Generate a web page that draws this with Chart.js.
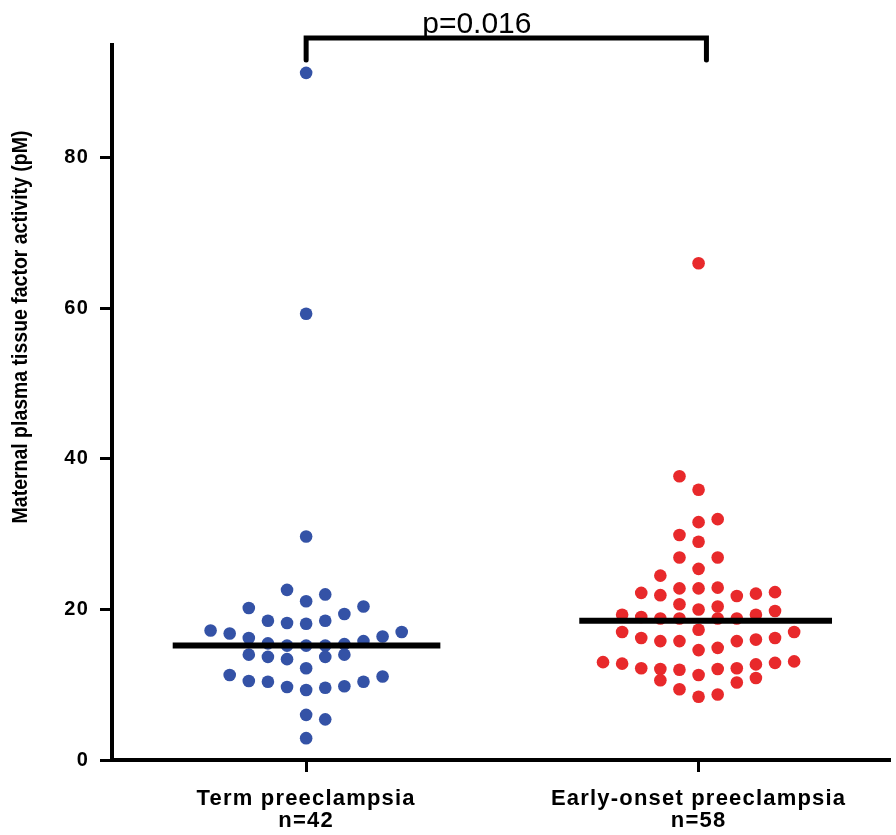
<!DOCTYPE html>
<html><head><meta charset="utf-8">
<script src="https://cdn.jsdelivr.net/npm/chart.js@4"></script>
<style>html,body{margin:0;padding:0;background:#fff}canvas{display:block}</style>
</head><body><canvas id="c" width="896" height="835"></canvas>
<script>
const categories = ["Term preeclampsia", "Early-onset preeclampsia"];
const groupSizes = ["n=42", "n=58"];
const termValues = [22.6,21.1,22.0,20.2,20.4,19.4,18.5,18.2,18.1,18.5,17.2,16.8,16.2,16.4,17.0,15.5,15.2,15.2,15.2,15.4,15.8,14.0,13.7,13.4,13.7,14.0,12.2,11.3,10.5,10.4,9.7,9.3,9.6,9.8,10.4,11.1,6.0,5.4,2.9,29.7,59.3,91.3];
const termColumns = [-1,0,1,-3,3,2,-2,-1,0,1,-5,-4,-3,4,5,-2,-1,0,1,2,3,-3,-2,-1,1,2,0,-4,-3,-2,-1,0,1,2,3,4,0,1,0,0,0,0];
const earlyValues = [37.7,35.9,31.6,32.0,29.9,29.0,26.9,26.9,25.4,24.5,22.2,21.9,22.8,22.8,22.9,21.8,22.1,22.3,20.7,20.0,20.4,19.3,19.8,19.3,19.0,18.8,18.8,18.8,18.8,17.3,17.0,17.0,16.2,15.8,15.8,15.8,16.0,16.2,14.6,14.9,13.0,12.8,12.2,12.1,12.0,12.1,12.2,12.7,12.9,13.1,11.3,10.6,10.3,10.9,9.4,8.4,8.7,66.0];
const earlyColumns = [-1,0,0,1,-1,0,-1,1,0,-2,-3,-2,-1,0,1,2,3,4,-1,0,1,3,4,-4,-3,-2,-1,1,2,0,-4,5,-3,-2,-1,2,3,4,0,1,-5,-4,-3,-2,-1,1,2,3,4,5,0,-2,2,3,-1,0,1,0];
const medians = [15.2, 18.5];
const yTicks = [0, 20, 40, 60, 80];
const pValueText = "p=0.016";
const yTitle = "Maternal plasma tissue factor activity (pM)";

const STEP = 0.0487;           // beeswarm column spacing (category units)
const medianExtent = [[-0.340, 0.342], [-0.304, 0.340]];
const FONT = "'Liberation Sans', Arial, sans-serif";

const termPoints = termValues.map((v, i) => ({x: 1 + termColumns[i] * STEP, y: v}));
const earlyPoints = earlyValues.map((v, i) => ({x: 2 + earlyColumns[i] * STEP, y: v}));
const medianLine = (g) => [
  {x: g + 1 + medianExtent[g][0], y: medians[g]},
  {x: g + 1 + medianExtent[g][1], y: medians[g]}
];

const extras = {
  id: 'extras',
  beforeDraw(chart) { chart.ctx.letterSpacing = '1.2px'; },
  afterDraw(chart) {
    const ctx = chart.ctx, xs = chart.scales.x, top = chart.chartArea.top;
    ctx.save();
    ctx.letterSpacing = '0px';
    // y title (condensed bold)
    ctx.save();
    ctx.translate(21, 327);
    ctx.rotate(-Math.PI / 2);
    ctx.scale(0.885, 1);
    ctx.fillStyle = '#000';
    ctx.font = 'bold 22px ' + FONT;
    ctx.textAlign = 'center';
    ctx.textBaseline = 'middle';
    ctx.fillText(yTitle, 0, 0);
    ctx.restore();
    // significance bracket
    const l = xs.getPixelForValue(1), r = xs.getPixelForValue(2.02);
    const yb = top - 7;
    ctx.strokeStyle = '#000';
    ctx.lineWidth = 5;
    ctx.lineCap = 'round';
    ctx.lineJoin = 'miter';
    ctx.beginPath();
    ctx.moveTo(l, top + 15); ctx.lineTo(l, yb); ctx.lineTo(r, yb); ctx.lineTo(r, top + 15);
    ctx.stroke();
    ctx.fillStyle = '#000';
    ctx.font = '30px ' + FONT;
    ctx.textAlign = 'center';
    ctx.textBaseline = 'alphabetic';
    ctx.fillText(pValueText, xs.getPixelForValue(1.435), 33);
    ctx.restore();
  }
};

new Chart(document.getElementById('c'), {
  data: {
    datasets: [
      {type: 'line', data: medianLine(0), borderColor: '#000', borderWidth: 6, pointRadius: 0, order: 0, clip: false},
      {type: 'line', data: medianLine(1), borderColor: '#000', borderWidth: 6, pointRadius: 0, order: 0, clip: false},
      {type: 'scatter', label: categories[0], data: termPoints, backgroundColor: '#3452a6', borderColor: '#3452a6', pointRadius: 6.3, pointBorderWidth: 0, order: 1, clip: false},
      {type: 'scatter', label: categories[1], data: earlyPoints, backgroundColor: '#e8292b', borderColor: '#e8292b', pointRadius: 6.3, pointBorderWidth: 0, order: 1, clip: false}
    ]
  },
  options: {
    responsive: false,
    devicePixelRatio: 1,
    animation: false,
    layout: {padding: {top: 45, left: 0, right: 0, bottom: 0}},
    plugins: {legend: {display: false}, tooltip: {enabled: false}},
    scales: {
      x: {
        type: 'linear', min: 0.5053, max: 2.487,
        afterFit(s) { s.height = 75; },
        afterBuildTicks(s) { s.ticks = [{value: 1}, {value: 2}]; },
        grid: {drawOnChartArea: false, drawTicks: true, tickLength: 12, color: '#000', lineWidth: 3},
        border: {display: true, color: '#000', width: 4},
        ticks: {
          autoSkip: false, maxRotation: 0, padding: 16, color: '#000',
          font: {family: FONT, size: 22, weight: 'bold', lineHeight: 1.0},
          callback: (v) => v === 1 ? [categories[0], groupSizes[0]] : (v === 2 ? [categories[1], groupSizes[1]] : '')
        }
      },
      y: {
        type: 'linear', min: 0, max: 95,
        afterFit(s) { s.width = 112; },
        afterBuildTicks(s) { s.ticks = yTicks.map(v => ({value: v})); },
        grid: {drawOnChartArea: false, drawTicks: true, tickLength: 12, color: '#000', lineWidth: 3},
        border: {display: true, color: '#000', width: 4},
        ticks: {padding: 11, color: '#000', font: {family: FONT, size: 20, weight: 'bold'}}
      }
    }
  },
  plugins: [extras]
});
</script>
</body></html>
